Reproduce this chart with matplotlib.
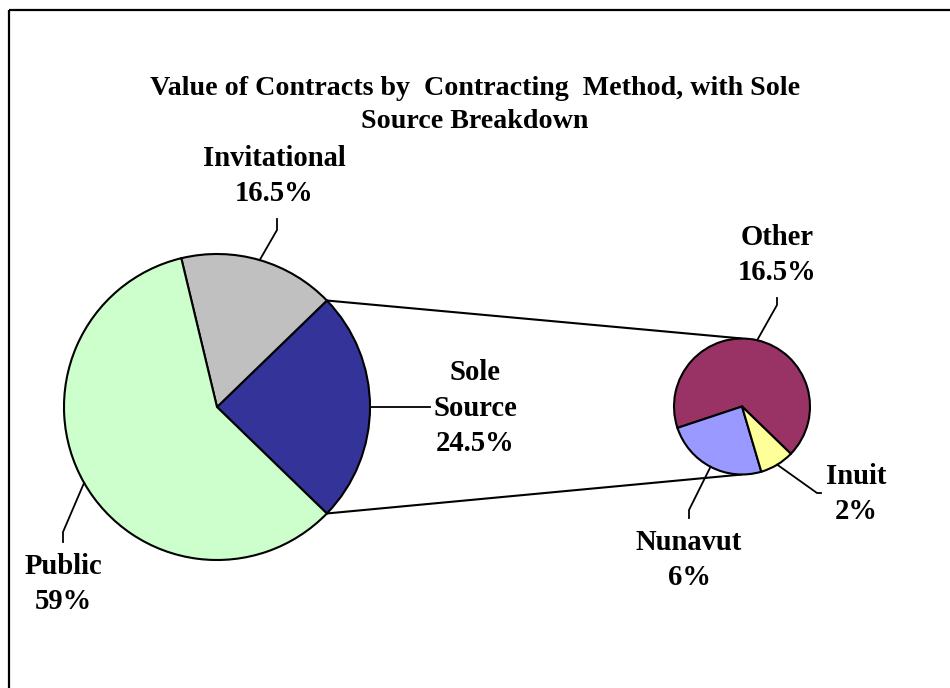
import numpy as np
import matplotlib
matplotlib.use('Agg')
import matplotlib.pyplot as plt
from matplotlib.lines import Line2D

# main pie (order drawn counter-clockwise from the split slice)
main_labels = ['Sole\nSource', 'Invitational', 'Public']
main_values = [24.5, 16.5, 59.0]
main_colors = ['#333399', '#C0C0C0', '#CCFFCC']

# breakdown of the sole source slice
sub_labels = ['Other', 'Nunavut', 'Inuit']
sub_values = [16.5, 6.0, 2.0]
sub_colors = ['#993366', '#9999FF', '#FFFF99']

title = 'Value of Contracts by  Contracting  Method, with Sole\nSource Breakdown'

W, H = 950, 688
serif = ['Liberation Serif', 'DejaVu Serif']
label_size = 20.6
title_size = 20.2


def py(y):
    # pixel row (top-down) -> data y (bottom-up)
    return H - y


fig = plt.figure(figsize=(W / 100, H / 100), dpi=100)
fig.patch.set_facecolor('white')
ax = fig.add_axes([0, 0, 1, 1])

main_center = (217, py(407))
main_r = 153
sub_center = (742, py(406.5))
sub_r = 68

split_half = main_values[0] / sum(main_values) * 360 / 2
wedge_kw = dict(edgecolor='black', linewidth=1.5)

main_wedges, _ = ax.pie(main_values, colors=main_colors, center=main_center,
                        radius=main_r, startangle=-split_half,
                        counterclock=True, wedgeprops=wedge_kw)
sub_wedges, _ = ax.pie(sub_values, colors=sub_colors, center=sub_center,
                       radius=sub_r, startangle=-split_half,
                       counterclock=True, wedgeprops=wedge_kw)

ax.set_xlim(0, W)
ax.set_ylim(0, H)
ax.set_aspect('equal')
ax.axis('off')


def edge_point(center, r, ang):
    a = np.deg2rad(ang)
    return center[0] + r * np.cos(a), center[1] + r * np.sin(a)


# connector lines between the two pies
for sign in (1, -1):
    p1 = edge_point(main_center, main_r, sign * split_half)
    p2 = edge_point(sub_center, sub_r, sign * 90)
    ax.plot([p1[0], p2[0]], [p1[1], p2[1]], color='black', lw=1.5,
            solid_capstyle='butt', zorder=0.5)

# label layout: elbow, end of leader, label centre (pixel rows top-down)
main_layout = {
    'Sole\nSource': [None, (430, 407), (475, 408)],
    'Invitational': [(277, 230), (277, 219), (274, 176)],
    'Public': [(63, 532), (63, 542), (63, 584)],
}
sub_layout = {
    'Other': [(777, 305), (777, 298), (777, 255)],
    'Nunavut': [(689, 510), (689, 518), (689, 560)],
    'Inuit': [(817, 493), (821, 493), (856, 494)],
}


def pct(v):
    s = f'{v:.1f}'
    if s.endswith('.0'):
        s = s[:-2]
    return s + '%'


def draw_labels(wedges, labels, values, center, r, layout):
    for w, lab, val in zip(wedges, labels, values):
        elbow, end, pos = layout[lab]
        mid = (w.theta1 + w.theta2) / 2
        start = edge_point(center, r, mid)
        xs, ys = [start[0]], [start[1]]
        if elbow is not None:
            xs.append(elbow[0])
            ys.append(py(elbow[1]))
        xs.append(end[0])
        ys.append(py(end[1]))
        ax.plot(xs, ys, color='black', lw=1.3, zorder=3)
        ax.text(pos[0], py(pos[1]), f'{lab}\n{pct(val)}', ha='center',
                va='center', fontsize=label_size, fontweight='bold',
                family=serif, linespacing=1.4, multialignment='center')


draw_labels(main_wedges, main_labels, main_values, main_center, main_r, main_layout)
draw_labels(sub_wedges, sub_labels, sub_values, sub_center, sub_r, sub_layout)

ax.text(475, py(105), title, ha='center', va='center', fontsize=title_size,
        fontweight='bold', family=serif, linespacing=1.43)

# chart border (right and bottom run off the picture)
border = dict(color='black', lw=1.6, solid_capstyle='butt')
ax.add_line(Line2D([9, 9], [py(10), -5], **border))
ax.add_line(Line2D([9, W + 5], [py(10), py(10)], **border))

fig.savefig('out.png', dpi=100, facecolor='white')
